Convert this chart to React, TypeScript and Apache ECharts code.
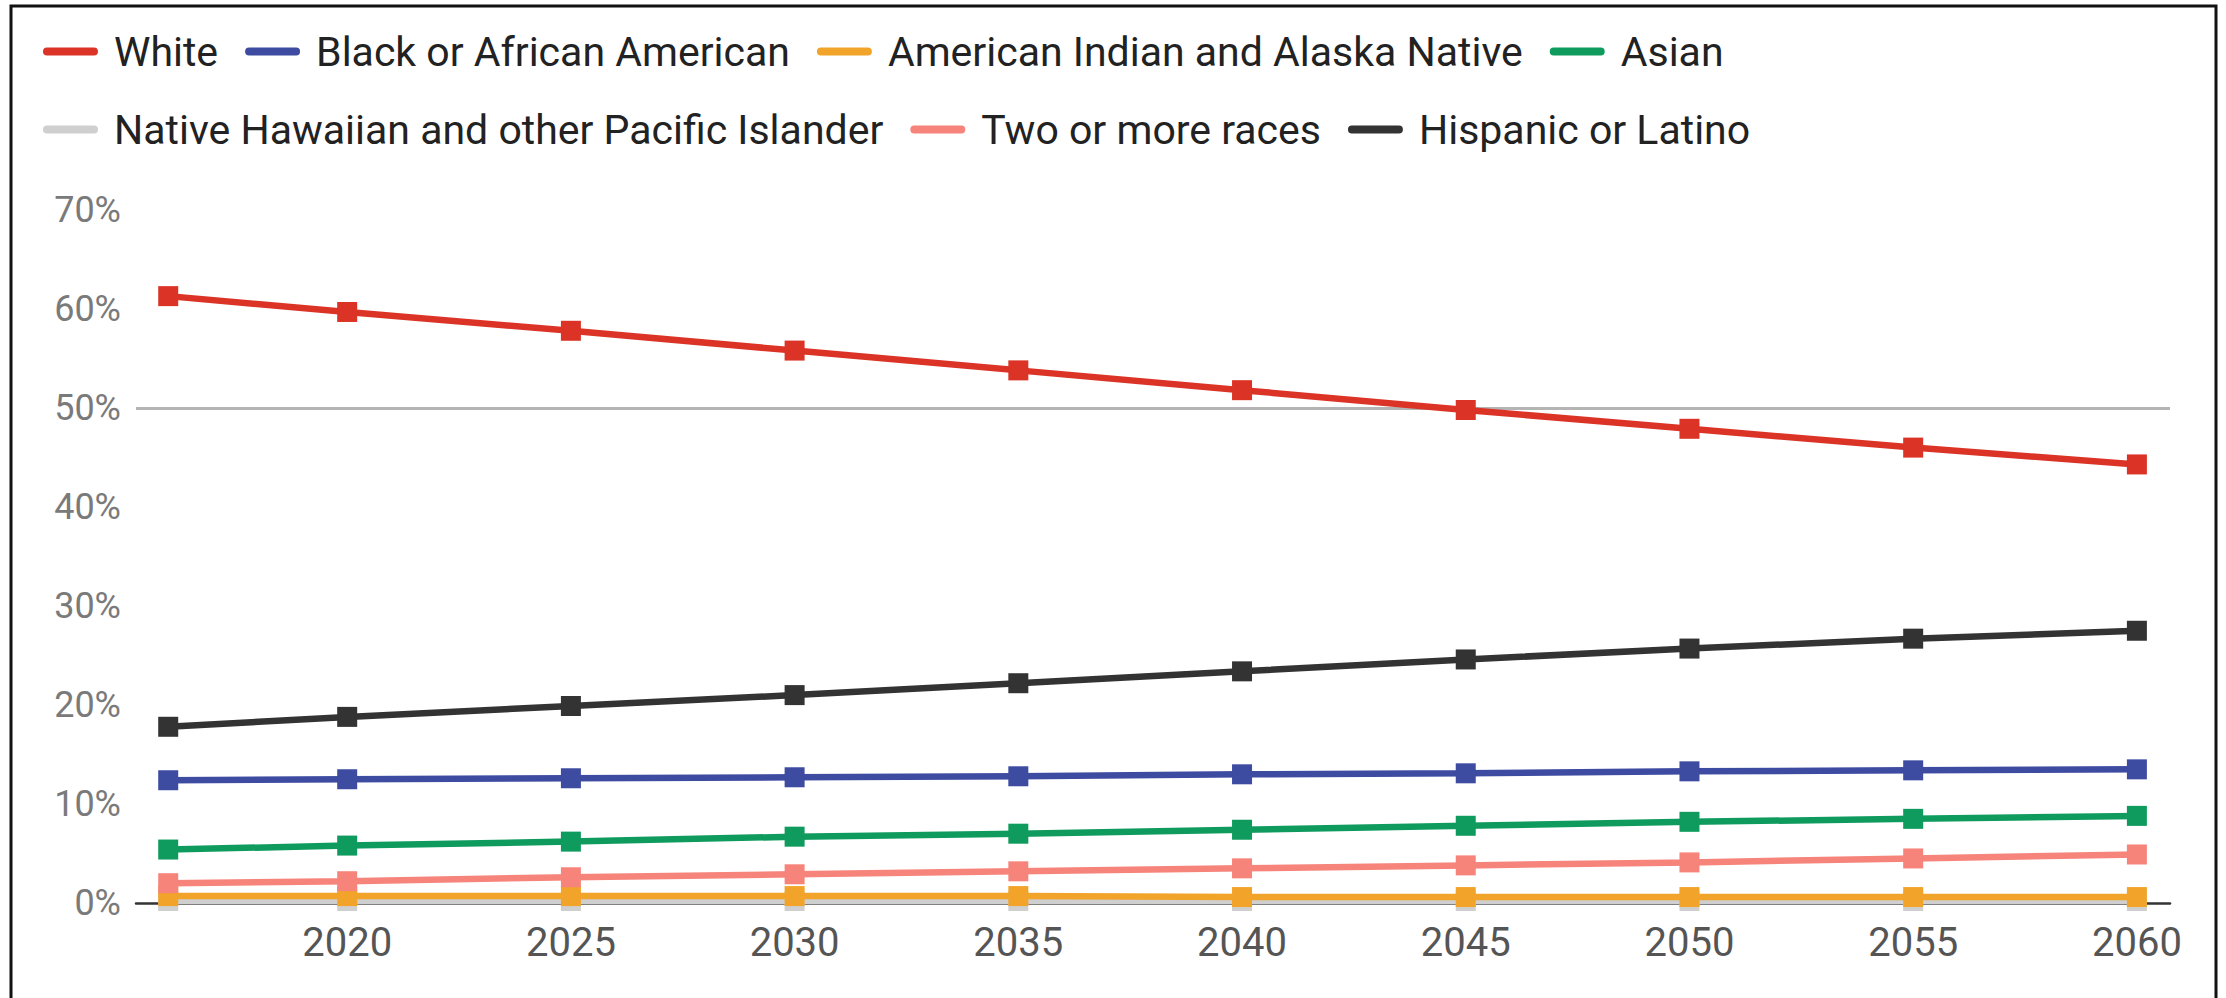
import React, { useEffect, useRef } from 'react';
import * as echarts from 'echarts';

const years = [2016, 2020, 2025, 2030, 2035, 2040, 2045, 2050, 2055, 2060];
const xTickLabels = [2020, 2025, 2030, 2035, 2040, 2045, 2050, 2055, 2060];

const white = [61.3, 59.7, 57.8, 55.8, 53.8, 51.8, 49.8, 47.9, 46.0, 44.3];
const blackAA = [12.4, 12.5, 12.6, 12.7, 12.8, 13.0, 13.1, 13.3, 13.4, 13.5];
const aian = [0.7, 0.7, 0.7, 0.7, 0.7, 0.6, 0.6, 0.6, 0.6, 0.6];
const asian = [5.4, 5.8, 6.2, 6.7, 7.0, 7.4, 7.8, 8.2, 8.5, 8.8];
const nhpi = [0.2, 0.2, 0.2, 0.2, 0.2, 0.2, 0.2, 0.2, 0.2, 0.2];
const twoOrMore = [2.0, 2.2, 2.6, 2.9, 3.2, 3.5, 3.8, 4.1, 4.5, 4.9];
const hispanic = [17.8, 18.8, 19.9, 21.0, 22.2, 23.4, 24.6, 25.7, 26.7, 27.5];

const seriesNames = [
  'White',
  'Black or African American',
  'American Indian and Alaska Native',
  'Asian',
  'Native Hawaiian and other Pacific Islander',
  'Two or more races',
  'Hispanic or Latino',
];
const seriesValues = [white, blackAA, aian, asian, nhpi, twoOrMore, hispanic];
const seriesColors = ['#db3326', '#3d4ba1', '#f2a42a', '#109b5e', '#cfcfcf', '#f6847b', '#333333'];
const seriesZ = [5, 5, 3, 5, 2, 4, 5];

const legendRow1 = seriesNames.slice(0, 4);
const legendRow2 = seriesNames.slice(4);

const legendIcon =
  'path://M4,0 L51,0 A4,4 0 0 1 51,8 L4,8 A4,4 0 0 1 4,0 Z M66,0 L66.01,0 L66.01,0.01 Z';

export default function App() {
  const ref = useRef<HTMLDivElement>(null);

  useEffect(() => {
    const chart = echarts.init(ref.current!, null, { renderer: 'svg' });

    const legendCommon = {
      left: 43,
      padding: 0,
      orient: 'horizontal',
      icon: legendIcon,
      itemWidth: 66,
      itemHeight: 8,
      itemGap: 27,
      selectedMode: false,
      itemStyle: { borderWidth: 0 },
      textStyle: { fontFamily: 'Roboto', fontSize: 41, color: '#222222', lineHeight: 40 },
    };

    const series = seriesNames.map((name, i) => {
      const s: any = {
        name,
        type: 'line',
        data: years.map((y, j) => [y, seriesValues[i][j]]),
        color: seriesColors[i],
        symbol: 'rect',
        symbolSize: 20,
        showAllSymbol: true,
        z: seriesZ[i],
        lineStyle: { width: 6.5, color: seriesColors[i] },
        itemStyle: { color: seriesColors[i], borderWidth: 0 },
        emphasis: { disabled: true },
      };
      if (i === 4) {
        s.markLine = {
          silent: true,
          symbol: ['none', 'none'],
          label: { show: false },
          lineStyle: { color: '#b4b4b4', width: 3, type: 'solid' },
          data: [{ yAxis: 50 }],
        };
      }
      return s;
    });

    chart.setOption({
      animation: false,
      backgroundColor: '#ffffff',
      textStyle: { fontFamily: 'Roboto' },
      legend: [
        { ...legendCommon, top: 31, data: legendRow1 },
        { ...legendCommon, top: 109, data: legendRow2 },
      ],
      grid: { left: 136, right: 56, top: 210, bottom: 95, containLabel: false },
      xAxis: {
        type: 'value',
        min: 2015.28,
        max: 2060.74,
        splitLine: { show: false },
        axisTick: { show: false },
        axisLine: { show: true, lineStyle: { color: '#333333', width: 2.5 } },
        axisLabel: {
          customValues: xTickLabels,
          formatter: (v: number) => String(v),
          fontFamily: 'Roboto',
          fontSize: 40,
          color: '#555555',
          margin: 19,
        },
      },
      yAxis: {
        type: 'value',
        min: 0,
        max: 70,
        interval: 10,
        splitLine: { show: false },
        axisTick: { show: false },
        axisLine: { show: false },
        axisLabel: {
          formatter: '{value}%',
          fontFamily: 'Roboto',
          fontSize: 36,
          color: '#7a7a7a',
          margin: 15,
        },
      },
      graphic: [
        {
          type: 'rect',
          shape: { x: 11, y: 6, width: 2205, height: 1010 },
          style: { fill: 'none', stroke: '#111111', lineWidth: 3 },
          silent: true,
          z: 100,
        },
      ],
      series,
    });

    return () => chart.dispose();
  }, []);

  return (
    <div
      ref={ref}
      style={{ position: 'absolute', left: 0, top: 0, width: 2226, height: 998, background: '#ffffff' }}
    />
  );
}
